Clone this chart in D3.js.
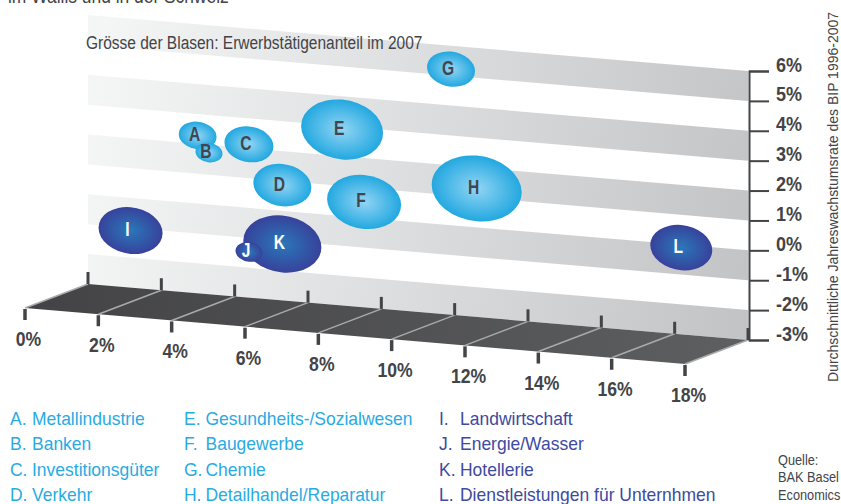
<!DOCTYPE html>
<html>
<head>
<meta charset="utf-8">
<script src="https://cdn.jsdelivr.net/npm/d3@7"></script>
<style>
    html, body { margin: 0; padding: 0; background: #fff; }
    svg { display: block; }
    text { font-family: "Liberation Sans", sans-serif; }
</style>
</head>
<body>
<div id="chart"></div>
<script>
const bubbleLetters = ['A', 'B', 'C', 'D', 'E', 'F', 'G', 'H', 'I', 'J', 'K', 'L'];
const bubbleX = [2.99, 3.30, 4.39, 5.30, 6.93, 7.53, 9.90, 10.6, 1.16, 4.39, 5.30, 16.18];
const bubbleY = [2.28, 1.74, 2.13, 0.86, 2.89, 0.53, 5.22, 1.30, -1.09, -1.47, -1.11, -0.10];
const bubbleShare = [3.0, 1.53, 5.04, 7.06, 14.1, 11.5, 4.84, 17, 8.6, 1.53, 12.8, 8.07];
const darkLetters = ['I', 'J', 'K', 'L'];

const xTicks = [0, 2, 4, 6, 8, 10, 12, 14, 16, 18];
const yTicks = [6, 5, 4, 3, 2, 1, 0, -1, -2, -3];
const bandPairs = [[6, 5], [4, 3], [2, 1], [0, -1], [-2, -3]];

const legendCol1 = ['Metallindustrie', 'Banken', 'Investitionsgüter', 'Verkehr'];
const legendCol2 = ['Gesundheits-/Sozialwesen', 'Baugewerbe', 'Chemie', 'Detailhandel/Reparatur'];
const legendCol3 = ['Landwirtschaft', 'Energie/Wasser', 'Hotellerie', 'Dienstleistungen für Unternhmen'];
const sourceLines = ['Quelle:', 'BAK Basel', 'Economics'];

const width = 841, height = 504;
const ink = '#434447', cyan = '#29abe2', navy = '#3d4aa0';

const svg = d3.select('#chart').append('svg')
    .attr('width', width)
    .attr('height', height);

const xScale = d3.scaleLinear().domain([0, 18]).range([88, 748]);
const yScale = d3.scaleLinear().domain([-3, 6]).range([340, 71]);
const rScale = d3.scaleSqrt().domain([0, 17]).range([0, 45]);

// the wall falls towards the right, the floor sits in front of it
const slope = 56 / 660;
const wallY = (x, v) => yScale(v) - (18 - x) * (xScale(18) - xScale(0)) / 18 * slope;
const floorDx = -63, floorDy = 24;

// the original type is condensed, no such font here so squeeze the glyphs
const condense = (selection, k) => selection.each(function () {
    this.setAttribute('textLength', this.getComputedTextLength() * k);
    this.setAttribute('lengthAdjust', 'spacingAndGlyphs');
});

const defs = svg.append('defs');

const wallGrad = defs.append('linearGradient').attr('id', 'wall')
    .attr('gradientUnits', 'userSpaceOnUse')
    .attr('x1', 88).attr('y1', 150).attr('x2', 748).attr('y2', 250);
wallGrad.append('stop').attr('offset', 0).attr('stop-color', '#f4f5f5');
wallGrad.append('stop').attr('offset', 1).attr('stop-color', '#c3c4c6');

const floorGrad = defs.append('linearGradient').attr('id', 'floor')
    .attr('gradientUnits', 'userSpaceOnUse')
    .attr('x1', 25).attr('y1', 0).attr('x2', 748).attr('y2', 0);
floorGrad.append('stop').attr('offset', 0).attr('stop-color', '#434345');
floorGrad.append('stop').attr('offset', 1).attr('stop-color', '#5e5f61');

const addBubbleGrad = (id, inner, outer) => {
    const g = defs.append('radialGradient').attr('id', id);
    g.append('stop').attr('offset', 0).attr('stop-color', inner);
    g.append('stop').attr('offset', 1).attr('stop-color', outer);
};
addBubbleGrad('bubble-light', '#93d5f4', '#22a8e0');
addBubbleGrad('bubble-dark', '#2a78ba', '#37429b');

// cut off line of the running text above the chart
svg.append('text')
    .attr('x', 8).attr('y', 3)
    .attr('font-size', 20).attr('fill', ink)
    .text('im Wallis und in der Schweiz')
    .call(condense, 0.87);

// wall bands
const bandLine = d3.line();
svg.append('g').selectAll('path')
    .data(bandPairs)
    .join('path')
    .attr('d', d => bandLine([
        [xScale(0), wallY(0, d[0])],
        [xScale(18), wallY(18, d[0])],
        [xScale(18), wallY(18, d[1])],
        [xScale(0), wallY(0, d[1])]
    ]) + 'Z')
    .attr('fill', 'url(#wall)');

svg.append('text')
    .attr('x', 86).attr('y', 48.5)
    .attr('font-size', 18).attr('fill', ink)
    .text('Grösse der Blasen: Erwerbstätigenanteil im 2007')
    .call(condense, 0.86);

// floor
const floorBack = x => [xScale(x), wallY(x, -3)];
const floorFront = x => [xScale(x) + floorDx, wallY(x, -3) + floorDy];

svg.append('path')
    .attr('d', bandLine([floorBack(0), floorBack(18), floorFront(18), floorFront(0)]) + 'Z')
    .attr('fill', 'url(#floor)');

svg.append('g').selectAll('line')
    .data(xTicks)
    .join('line')
    .attr('x1', d => floorBack(d)[0]).attr('y1', d => floorBack(d)[1])
    .attr('x2', d => floorFront(d)[0]).attr('y2', d => floorFront(d)[1])
    .attr('stroke', '#a9aaac').attr('stroke-width', 1.5);

svg.append('g').selectAll('line')
    .data(xTicks)
    .join('line')
    .attr('x1', d => floorBack(d)[0]).attr('y1', d => floorBack(d)[1])
    .attr('x2', d => floorBack(d)[0]).attr('y2', d => floorBack(d)[1] - 12)
    .attr('stroke', ink).attr('stroke-width', 3);

svg.append('g').selectAll('line')
    .data(xTicks)
    .join('line')
    .attr('x1', d => floorFront(d)[0]).attr('y1', d => floorFront(d)[1] + 1)
    .attr('x2', d => floorFront(d)[0]).attr('y2', d => floorFront(d)[1] + 12)
    .attr('stroke', ink).attr('stroke-width', 3.5);

svg.append('g').selectAll('text')
    .data(xTicks)
    .join('text')
    .attr('x', d => floorFront(d)[0] + 3.5)
    .attr('y', d => floorFront(d)[1] + 38)
    .attr('text-anchor', 'middle')
    .attr('font-size', 20).attr('font-weight', 700).attr('fill', ink)
    .text(d => d + '%')
    .call(condense, 0.88);

// growth axis on the right
const yAxis = svg.append('g')
    .attr('transform', `translate(${xScale(18) + 1},0)`)
    .call(d3.axisRight(yScale).tickValues(yTicks).tickSize(20).tickPadding(7).tickFormat(d => d + '%'));
yAxis.select('.domain').attr('stroke', ink).attr('stroke-width', 2);
yAxis.selectAll('.tick line').attr('stroke', ink).attr('stroke-width', 2);
yAxis.selectAll('.tick text')
    .attr('dy', 0)
    .attr('font-family', '"Liberation Sans", sans-serif')
    .attr('font-size', 20).attr('font-weight', 700).attr('fill', ink)
    .call(condense, 0.9);

svg.append('text')
    .attr('transform', 'translate(837.5,382) rotate(-90)')
    .attr('font-size', 15).attr('fill', ink)
    .text('Durchschnittliche Jahreswachstumsrate des BIP 1996-2007')
    .call(condense, 0.933);

// bubbles are skewed together with the wall, small ones go on top
const bubbleRows = bubbleLetters
    .map((letter, i) => ({ letter, x: bubbleX[i], y: bubbleY[i], share: bubbleShare[i] }))
    .sort((a, b) => b.share - a.share);

const bubbles = svg.append('g').selectAll('g')
    .data(bubbleRows)
    .join('g')
    .attr('transform', d => `translate(${xScale(d.x)},${wallY(d.x, d.y)})`);

bubbles.append('ellipse')
    .attr('transform', `matrix(1,${slope},0,1,0,0)`)
    .attr('rx', d => rScale(d.share))
    .attr('ry', d => rScale(d.share) * 0.73)
    .attr('fill', d => darkLetters.includes(d.letter) ? 'url(#bubble-dark)' : 'url(#bubble-light)');

bubbles.append('text')
    .attr('x', -3).attr('y', 5.5)
    .attr('text-anchor', 'middle')
    .attr('font-size', 20).attr('font-weight', 700)
    .attr('fill', d => darkLetters.includes(d.letter) ? '#fff' : '#3f4650')
    .text(d => d.letter)
    .call(condense, 0.78);

// legend
const legendRow = d3.scalePoint().domain([0, 1, 2, 3]).range([425, 501]);
const drawLegend = (names, letters, letterX, nameX, color) => {
    const g = svg.append('g').attr('fill', color).attr('font-size', 19);
    g.selectAll('text.key').data(letters).join('text')
        .attr('class', 'key')
        .attr('x', letterX).attr('y', (d, i) => legendRow(i))
        .text(d => d + '.')
        .call(condense, 0.92);
    g.selectAll('text.name').data(names).join('text')
        .attr('class', 'name')
        .attr('x', nameX).attr('y', (d, i) => legendRow(i))
        .text(d => d)
        .call(condense, 0.92);
};
drawLegend(legendCol1, bubbleLetters.slice(0, 4), 10, 32, cyan);
drawLegend(legendCol2, bubbleLetters.slice(4, 8), 184, 205.5, cyan);
drawLegend(legendCol3, bubbleLetters.slice(8, 12), 439, 460, navy);

svg.append('g').selectAll('text')
    .data(sourceLines)
    .join('text')
    .attr('x', 778).attr('y', (d, i) => 464.5 + i * 17.8)
    .attr('font-size', 15).attr('fill', ink)
    .text(d => d)
    .call(condense, 0.85);
</script>
</body>
</html>
